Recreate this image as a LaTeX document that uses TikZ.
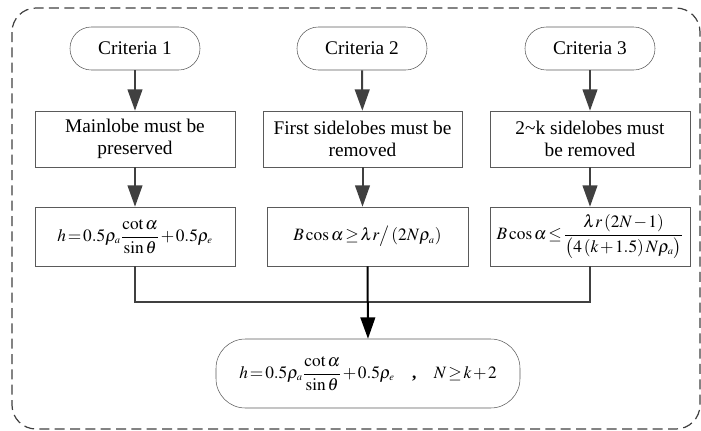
\documentclass[tikz,border=0pt]{standalone}
\usepackage{amsmath}
\usepackage{mathptmx}
\usepackage{fontspec}
\setmainfont{Liberation Serif}
\usetikzlibrary{arrows.meta}
\definecolor{linegray}{HTML}{404040}
\definecolor{boxgray}{HTML}{5A5A5A}
\newcommand{\lowsub}[1]{_{\scriptscriptstyle #1}}
\newcommand{\tightmath}{\thickmuskip=2mu\relax\medmuskip=1.5mu\relax}
\tikzset{
  crit/.style={draw=boxgray, fill=white, rounded corners=16pt, minimum width=97.5pt, minimum height=32.25pt, font=\fontsize{14.5}{17}\selectfont},
  cond/.style={draw=boxgray, fill=white, minimum width=150pt, minimum height=42pt, align=center, inner sep=0pt, font=\fontsize{14.5}{16.5}\selectfont},
  form/.style={draw=boxgray, fill=white, minimum width=150pt, minimum height=44.25pt, inner sep=1pt,
    font=\fontsize{13}{15}\selectfont, execute at begin node=\tightmath},
  result/.style={form, rounded corners=22pt, minimum width=228pt, minimum height=51.75pt},
  link/.style={draw=linegray, line width=1.5pt},
  arr/.style={link, -{Triangle[length=16pt,width=11pt]}}
}
\begin{document}
\begin{tikzpicture}[x=0.75pt,y=-0.75pt]
  \useasboundingbox (0,0) rectangle (701,430);
  \draw[draw=linegray, line width=0.9pt, dash pattern=on 7.5pt off 4pt, rounded corners=18pt] (12,8) rectangle (700,429);

  \node[crit] (k1) at (135,48.5) {Criteria 1};
  \node[crit] (k2) at (362,48.5) {Criteria 2};
  \node[crit] (k3) at (590,48.5) {Criteria 3};

  \node[cond] (c1) at (135,139) {Mainlobe must be\\preserved};
  \node[cond, minimum width=149pt] (c2) at (362.5,139) {First sidelobes must be\\removed};
  \node[cond] (c3) at (590,139) {2\textasciitilde k sidelobes must\\be removed};

  \node[form] (f1) at (135,236.5) {$h=0.5\rho\lowsub{a}\dfrac{\cot\alpha}{\sin\theta}+0.5\rho\lowsub{e}$};
  \node[form, minimum width=150.75pt] (f2) at (367.5,236.5) {$B\cos\alpha\geq\lambda r\big/\left(2N\rho\lowsub{a}\right)$};
  \node[form, inner sep=0pt] (f3) at (590,236.5) {$B\cos\alpha\leq\dfrac{\lambda r\left(2N-1\right)}{\bigl(4\left(k+1.5\right)N\rho\lowsub{a}\bigr)}$};

  \node[result] (res) at (368,373.5) {$h=0.5\rho\lowsub{a}\dfrac{\cot\alpha}{\sin\theta}+0.5\rho\lowsub{e}$\quad\textbf{,}\quad$N\geq k+2$};
  \coordinate (join) at (368,302);

  \draw[arr] (k1) -- (c1);
  \draw[arr] (k2) -- (c2);
  \draw[arr] (k3) -- (c3);
  \draw[arr] (c1) -- (f1);
  \draw[arr] (c2) -- (c2 |- f2.north);
  \draw[arr] (c3) -- (f3);

  \draw[link] (f1.south) |- (join) -| (f3.south);
  \draw[arr, draw=black] (f2.south) -- (res.north);
\end{tikzpicture}
\end{document}
